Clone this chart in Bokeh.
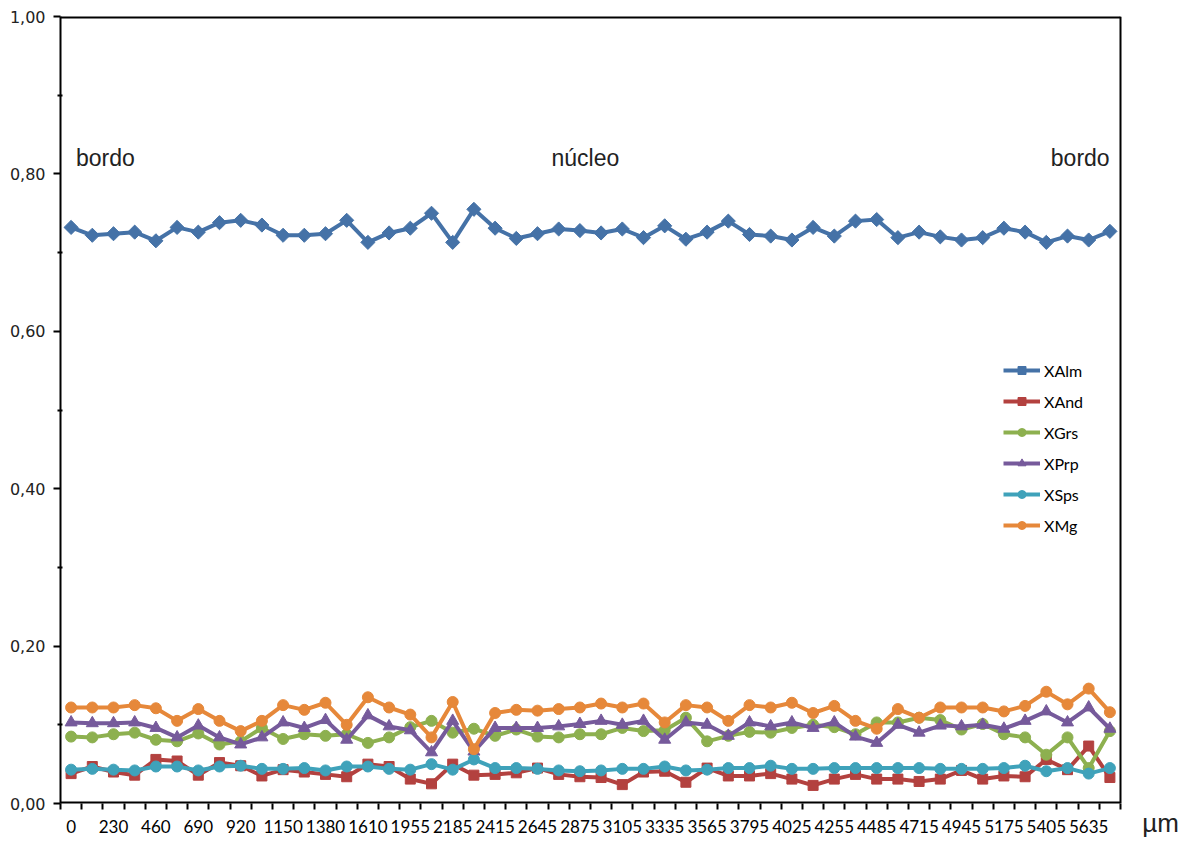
import math
from bokeh.plotting import figure
from bokeh.models import (Range1d, FixedTicker, CustomJSTickFormatter, Label, Legend, LegendItem)
from bokeh.embed import file_html
from bokeh.resources import INLINE

# ---- data ----
x_tick_labels = ["0", "230", "460", "690", "920", "1150", "1380", "1610", "1955", "2185",
                 "2415", "2645", "2875", "3105", "3335", "3565", "3795", "4025", "4255",
                 "4485", "4715", "4945", "5175", "5405", "5635"]

xalm = [0.732, 0.722, 0.724, 0.726, 0.715, 0.732, 0.726, 0.738, 0.741, 0.735,
        0.722, 0.722, 0.724, 0.741, 0.713, 0.725, 0.731, 0.750, 0.713, 0.755,
        0.731, 0.718, 0.724, 0.730, 0.728, 0.725, 0.730, 0.719, 0.734, 0.717,
        0.726, 0.740, 0.723, 0.721, 0.716, 0.732, 0.721, 0.740, 0.742, 0.719,
        0.726, 0.720, 0.716, 0.719, 0.731, 0.726, 0.713, 0.721, 0.716, 0.727]
xand = [0.038, 0.047, 0.040, 0.036, 0.056, 0.054, 0.036, 0.052, 0.048, 0.035,
        0.043, 0.040, 0.037, 0.034, 0.050, 0.047, 0.031, 0.025, 0.050, 0.036,
        0.037, 0.039, 0.045, 0.037, 0.034, 0.033, 0.024, 0.040, 0.041, 0.027,
        0.045, 0.035, 0.035, 0.038, 0.031, 0.023, 0.031, 0.037, 0.031, 0.031,
        0.028, 0.031, 0.042, 0.031, 0.035, 0.034, 0.056, 0.043, 0.073, 0.033]
xgrs = [0.085, 0.084, 0.088, 0.090, 0.081, 0.079, 0.089, 0.075, 0.079, 0.096,
        0.082, 0.088, 0.086, 0.088, 0.077, 0.084, 0.097, 0.105, 0.090, 0.095,
        0.086, 0.094, 0.085, 0.084, 0.088, 0.088, 0.096, 0.092, 0.093, 0.109,
        0.079, 0.086, 0.091, 0.090, 0.096, 0.100, 0.097, 0.088, 0.103, 0.103,
        0.109, 0.106, 0.094, 0.101, 0.088, 0.084, 0.062, 0.084, 0.045, 0.092]
xprp = [0.103, 0.102, 0.102, 0.103, 0.096, 0.084, 0.099, 0.084, 0.075, 0.084,
        0.103, 0.096, 0.106, 0.081, 0.112, 0.098, 0.093, 0.065, 0.105, 0.066,
        0.096, 0.096, 0.096, 0.098, 0.101, 0.105, 0.100, 0.105, 0.081, 0.103,
        0.100, 0.086, 0.103, 0.098, 0.103, 0.096, 0.103, 0.085, 0.077, 0.100,
        0.090, 0.099, 0.098, 0.100, 0.095, 0.105, 0.117, 0.103, 0.122, 0.095]
xsps = [0.043, 0.044, 0.043, 0.042, 0.047, 0.047, 0.042, 0.047, 0.048, 0.044,
        0.044, 0.045, 0.042, 0.047, 0.047, 0.044, 0.043, 0.050, 0.043, 0.056,
        0.045, 0.045, 0.044, 0.042, 0.041, 0.042, 0.044, 0.044, 0.047, 0.042,
        0.043, 0.045, 0.045, 0.048, 0.044, 0.044, 0.045, 0.045, 0.045, 0.045,
        0.045, 0.044, 0.044, 0.044, 0.045, 0.048, 0.041, 0.045, 0.038, 0.045]
xmg = [0.122, 0.122, 0.122, 0.125, 0.121, 0.105, 0.120, 0.105, 0.092, 0.105,
       0.125, 0.119, 0.128, 0.100, 0.135, 0.122, 0.113, 0.084, 0.129, 0.069,
       0.115, 0.119, 0.118, 0.120, 0.122, 0.127, 0.122, 0.127, 0.103, 0.125,
       0.122, 0.105, 0.125, 0.122, 0.128, 0.115, 0.124, 0.105, 0.095, 0.120,
       0.109, 0.122, 0.122, 0.122, 0.117, 0.124, 0.142, 0.126, 0.146, 0.116]

series_names = ["XAlm", "XAnd", "XGrs", "XPrp", "XSps", "XMg"]
series_values = [xalm, xand, xgrs, xprp, xsps, xmg]
series_colors = ["#4572A7", "#B3413F", "#8DB04F", "#765A9B", "#3FA2BA", "#E6883A"]
series_markers = ["square", "square", "circle", "triangle", "circle", "circle"]
series_sizes = [10, 10, 11, 12, 11, 11]
series_angles = [math.pi / 4, 0, 0, 0, 0, 0]

n = len(xalm)
xs = list(range(n))

# layout geometry (pixels)
W, H = 1186, 840
left, right, top, bottom = 60, 26, 16, 37
cat_px = 21.2                      # width of one category
frame_w = W - left - right
x_end = -0.5 + frame_w / cat_px    # frame extends a bit past the last category (room for the unit)

p = figure(width=W, height=H, output_backend="svg", toolbar_location=None,
           x_range=Range1d(-0.5, x_end), y_range=Range1d(0, 1),
           min_border_left=left, min_border_right=right, min_border_top=top,
           min_border_bottom=bottom)
p.background_fill_color = "white"
p.border_fill_color = "white"
p.xgrid.visible = False
p.ygrid.visible = False
p.outline_line_color = None

# chart border (bottom, top, right) around the category area
p.segment(x0=[-0.5, -0.5], y0=[0, 1], x1=[n - 0.5, n - 0.5], y1=[0, 1],
          line_color="black", line_width=4)
p.segment(x0=[n - 0.5], y0=[0], x1=[n - 0.5], y1=[1], line_color="black", line_width=2)

# x axis
xax = p.xaxis[0]
xax.ticker = FixedTicker(ticks=list(range(0, 2 * len(x_tick_labels), 2)),
                         minor_ticks=[i - 0.5 for i in range(n + 1)])
xax.major_label_overrides = {2 * i: lab for i, lab in enumerate(x_tick_labels)}
xax.major_tick_out = 0
xax.major_tick_in = 0
xax.major_tick_line_color = None
xax.minor_tick_out = 6
xax.minor_tick_in = 0
xax.minor_tick_line_color = "black"
xax.minor_tick_line_width = 2
xax.axis_line_color = None
xax.major_label_text_font = "Lato"
xax.major_label_text_font_size = "17px"
xax.major_label_text_color = "black"
xax.major_label_standoff = 10
xax.axis_label = "µm"
xax.axis_label_align = "end"
xax.axis_label_standoff = -28
xax.axis_label_text_font = "Liberation Sans"
xax.axis_label_text_font_style = "normal"
xax.axis_label_text_font_size = "26px"
xax.axis_label_text_color = "#222222"

# y axis
yax = p.yaxis[0]
yax.ticker = FixedTicker(ticks=[0, 0.2, 0.4, 0.6, 0.8, 1.0],
                         minor_ticks=[0.1, 0.3, 0.5, 0.7, 0.9])
yax.formatter = CustomJSTickFormatter(code="return tick.toFixed(2).replace('.', ',');")
yax.major_tick_out = 7
yax.major_tick_in = 0
yax.minor_tick_out = 3
yax.minor_tick_in = 2
yax.major_tick_line_width = 2
yax.minor_tick_line_width = 2
yax.major_tick_line_color = "black"
yax.minor_tick_line_color = "black"
yax.axis_line_color = "black"
yax.axis_line_width = 2
yax.major_label_text_font = "DejaVu Sans"
yax.major_label_text_font_size = "16px"
yax.major_label_text_color = "#222222"
yax.major_label_standoff = 8

items = []
for name, vals, col, mk, sz, ang in zip(series_names, series_values, series_colors,
                                         series_markers, series_sizes, series_angles):
    r1 = p.line(xs, vals, line_color=col, line_width=4)
    r2 = p.scatter(xs, vals, marker=mk, size=sz, angle=ang, fill_color=col, line_color=col,
                   line_width=1)
    items.append(LegendItem(label=name, renderers=[r1, r2]))

legend = Legend(items=items, location=(943, 268), padding=0, margin=0,
                border_line_color=None, background_fill_alpha=0,
                glyph_width=37, glyph_height=20, label_height=20, spacing=11,
                label_standoff=4, label_text_font="Lato", label_text_font_size="16px",
                label_text_color="black")
p.add_layout(legend, "center")

# annotations
for tx, xx in [("bordo", 1.62), ("núcleo", 24.26), ("bordo", 47.6)]:
    p.add_layout(Label(x=xx, y=0.82, text=tx, text_align="center", text_baseline="alphabetic",
                       text_font="Liberation Sans", text_font_size="23px", text_color="#222222"))

open("out.html", "w").write(file_html(p, INLINE))
